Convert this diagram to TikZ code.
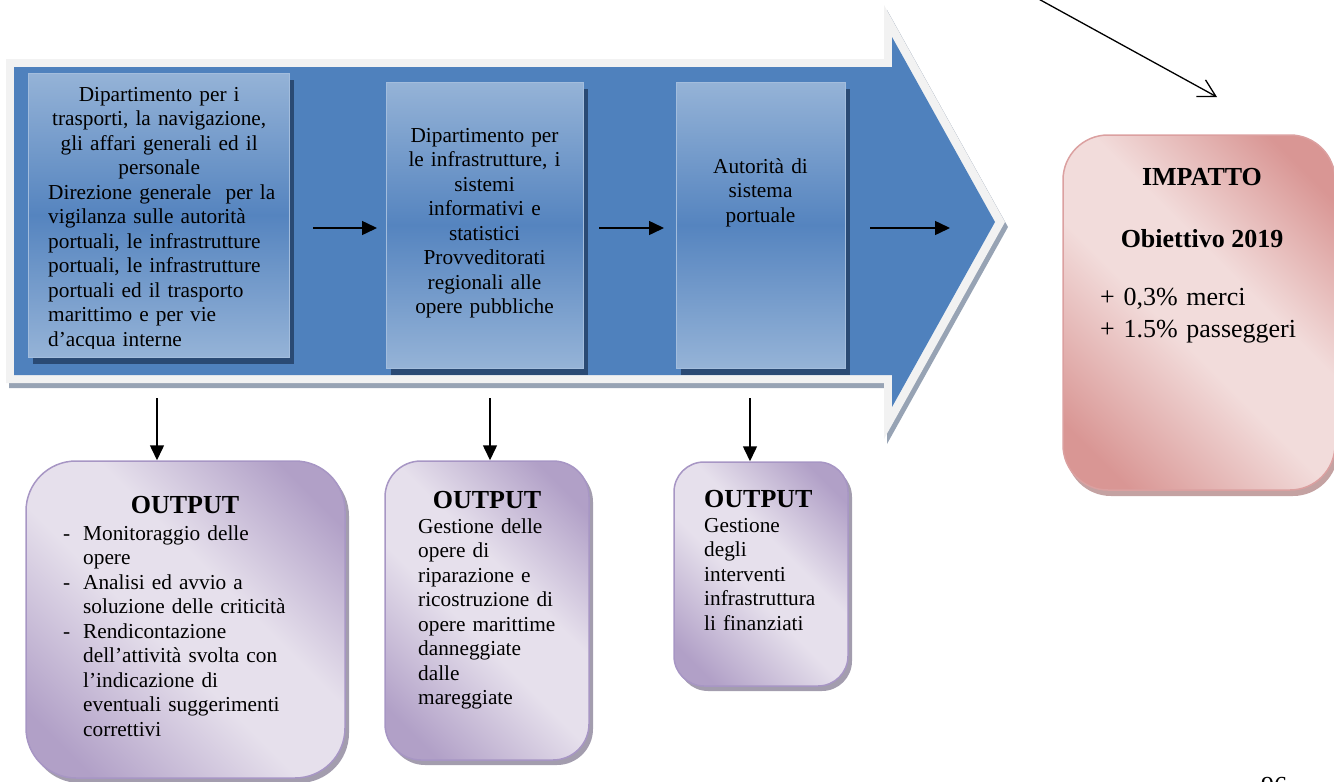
\documentclass[tikz,border=0pt]{standalone}
\usepackage{fontspec}
\setmainfont{Liberation Serif}
\usetikzlibrary{arrows.meta,shadows}
\definecolor{arrowblue}{HTML}{4F81BD}
\definecolor{arrowborder}{HTML}{F2F2F2}
\definecolor{arrowshadow}{HTML}{97A3B4}
\definecolor{boxlight}{HTML}{95B3D7}
\definecolor{boxmid}{HTML}{5584BF}
\definecolor{boxline}{HTML}{A3BDDD}
\definecolor{boxshadow}{HTML}{2A4A74}
\definecolor{purpdark}{HTML}{B1A0C7}
\definecolor{purplight}{HTML}{E6E0EC}
\definecolor{purpline}{HTML}{A796C4}
\definecolor{purpshadow}{HTML}{A39DAE}
\definecolor{pinkdark}{HTML}{D99694}
\definecolor{pinklight}{HTML}{F2DCDB}
\definecolor{pinkline}{HTML}{DBA0A0}
\definecolor{pinkshadow}{HTML}{C4A2A2}
\pgfdeclarehorizontalshading{purpshade}{100bp}{color(0bp)=(purpdark); color(22bp)=(purpdark); color(45bp)=(purplight); color(58bp)=(purplight); color(78bp)=(purpdark); color(100bp)=(purpdark)}
\pgfdeclarehorizontalshading{pinkshade}{100bp}{color(0bp)=(pinkdark); color(22bp)=(pinkdark); color(45bp)=(pinklight); color(58bp)=(pinklight); color(78bp)=(pinkdark); color(100bp)=(pinkdark)}
\tikzset{
  innerbox/.style={rectangle, inner sep=0pt, draw=boxline, line width=0.8pt,
    top color=boxlight, bottom color=boxlight, middle color=boxmid,
    drop shadow={shadow xshift=5pt, shadow yshift=-7pt, fill=boxshadow, opacity=1}},
  outbox/.style={rectangle, inner sep=0pt, draw=purpline, line width=1.5pt,
    shading=purpshade, shading angle=45,
    drop shadow={shadow xshift=4pt, shadow yshift=-5pt, fill=purpshadow, opacity=1}},
  impbox/.style={rectangle, inner sep=0pt, draw=pinkline, line width=1.5pt,
    shading=pinkshade, shading angle=45,
    drop shadow={shadow xshift=3pt, shadow yshift=-6pt, fill=pinkshadow, opacity=1}},
  bodytext/.style={font=\fontsize{21.3}{24.5}\selectfont, inner sep=0pt},
  headtext/.style={font=\bfseries\fontsize{26}{30}\selectfont, inner sep=0pt},
  imptext/.style={font=\fontsize{26}{32}\selectfont, inner sep=0pt},
  arr/.style={line width=1.5pt, -{Triangle[length=15pt,width=14pt]}},
  diagarr/.style={line width=1.3pt, -{Straight Barb[length=17pt,width=19pt]}},
}
\newcommand{\ctrline}[1]{\makebox[222pt][c]{#1}}
\begin{document}
\begin{tikzpicture}[x=1pt,y=-1pt]
\useasboundingbox (0,0) rectangle (1334,782);
\clip (0,0) rectangle (1334,782);
% big arrow
\fill[arrowshadow] (9,64) -- (887,64) -- (887,10) -- (1008,227) -- (887,444) -- (887,388) -- (9,388) -- cycle;
\fill[arrowborder] (6,59) -- (884,59) -- (884,5) -- (1005,222) -- (884,439) -- (884,383) -- (6,383) -- cycle;
\fill[arrowblue] (14,67) -- (892,67) -- (892,37) -- (995,222) -- (892,407) -- (892,375) -- (14,375) -- cycle;
% inner boxes
\node[innerbox, minimum width=261pt, minimum height=284pt] (b1) at (158.5,215) {};
\node[innerbox, minimum width=197pt, minimum height=286pt] (b2) at (484.5,225) {};
\node[innerbox, minimum width=169pt, minimum height=286pt] (b3) at (760.5,225) {};
\begin{scope}
\clip (28,73) rectangle (290,348);
\node[bodytext, anchor=base west, text width=262pt, align=left] (t1) at (48,101) {%
\ctrline{Dipartimento per i}\\ \ctrline{trasporti, la navigazione,}\\ \ctrline{gli affari generali ed il}\\ \ctrline{personale}\\
Direzione generale\ \ per la\\ vigilanza sulle autorità\\ portuali, le infrastrutture\\ portuali, le infrastrutture\\ portuali ed il trasporto\\ marittimo e per vie\\ d’acqua interne};
\end{scope}
\node[bodytext, anchor=base, text width=197pt, align=center] (t2) at (484.5,142) {Dipartimento per\\ le infrastrutture, i\\ sistemi\\ informativi e\\ statistici\\ Provveditorati\\ regionali alle\\ opere pubbliche};
\node[bodytext, anchor=base, text width=169pt, align=center] (t3) at (760.5,173) {Autorità di\\ sistema\\ portuale};
% horizontal arrows
\coordinate (h1s) at (313,228); \coordinate (h1e) at (377,228);
\coordinate (h2s) at (599,228); \coordinate (h2e) at (664,228);
\coordinate (h3s) at (870,228); \coordinate (h3e) at (950,228);
\draw[arr] (h1s) -- (h1e);
\draw[arr] (h2s) -- (h2e);
\draw[arr] (h3s) -- (h3e);
% output boxes
\node[outbox, rounded corners=50pt, minimum width=319pt, minimum height=317pt] (ob1) at (185.5,619.5) {};
\node[outbox, rounded corners=36pt, minimum width=204pt, minimum height=299pt] (ob2) at (487,610.5) {};
\node[outbox, rounded corners=30pt, minimum width=174pt, minimum height=224pt] (ob3) at (761,574) {};
\node[headtext, anchor=base] (o1h) at (185,513) {OUTPUT};
\node[bodytext, anchor=base west, text width=270pt, align=left] (o1t) at (63,540) {%
\makebox[20pt][l]{-}Monitoraggio delle\\
\hspace*{20pt}opere\\
\makebox[20pt][l]{-}Analisi ed avvio a\\
\hspace*{20pt}soluzione delle criticità\\
\makebox[20pt][l]{-}Rendicontazione\\
\hspace*{20pt}dell'attività svolta con\\
\hspace*{20pt}l’indicazione di\\
\hspace*{20pt}eventuali suggerimenti\\
\hspace*{20pt}correttivi};
\node[headtext, anchor=base] (o2h) at (487,508) {OUTPUT};
\node[bodytext, anchor=base west, text width=170pt, align=left] (o2t) at (418,533) {Gestione delle\\ opere di\\ riparazione e\\ ricostruzione di\\ opere marittime\\ danneggiate\\ dalle\\ mareggiate};
\node[headtext, anchor=base west] (o3h) at (704,507) {OUTPUT};
\node[bodytext, anchor=base west, text width=140pt, align=left] (o3t) at (704,532) {Gestione\\ degli\\ interventi\\ infrastruttura\\ li finanziati};
% vertical arrows
\coordinate (v1s) at (157,398);
\coordinate (v2s) at (490,398);
\coordinate (v3s) at (750,398);
\draw[arr] (v1s) -- (v1s |- ob1.north);
\draw[arr] (v2s) -- (v2s |- ob2.north);
\draw[arr] (v3s) -- (v3s |- ob3.north);
% impact box
\node[impbox, rounded corners=45pt, minimum width=272pt, minimum height=355pt] (imp) at (1199,312.5) {};
\node[headtext, anchor=base] (imph) at (1202,185) {IMPATTO};
\node[headtext, anchor=base] (impo) at (1202,247) {Obiettivo 2019};
\node[imptext, anchor=base west, text width=225pt, align=left] (impt) at (1100,305) {+ 0,3\% merci\\ + 1.5\% passeggeri};
% diagonal arrow
\coordinate (ds) at (1035,-3);
\coordinate (de) at (1217,97);
\draw[diagarr] (ds) -- (de);
% page number
\node[imptext, anchor=base] (pg) at (1274,794) {96};
\end{tikzpicture}
\end{document}
